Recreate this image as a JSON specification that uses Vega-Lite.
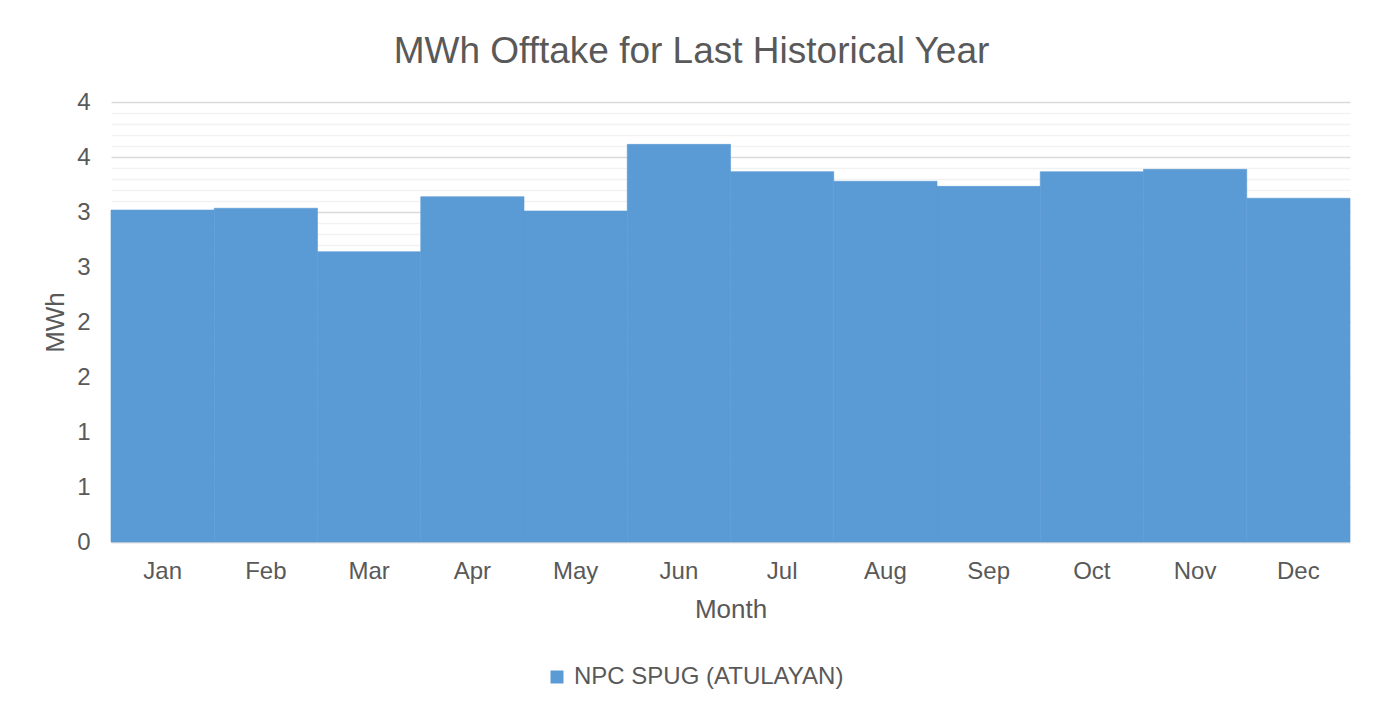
{
  "$schema": "https://vega.github.io/schema/vega-lite/v6.json",
  "width": 1239,
  "height": 440,
  "autosize": {"type": "none"},
  "padding": {"left": 111, "top": 102, "right": 34, "bottom": 169},
  "background": "#ffffff",
  "config": {"view": {"stroke": null}, "font": "Liberation Sans"},
  "title": {
    "text": "MWh Offtake for Last Historical Year",
    "font": "Liberation Sans",
    "fontSize": 37,
    "fontWeight": "normal",
    "color": "#595959",
    "anchor": "middle",
    "frame": "group",
    "baseline": "alphabetic",
    "offset": 40,
    "dx": -39,
    "dy": 50
  },
  "data": {
    "values": [
      {"month": "Jan", "mwh": 3.018, "series": "NPC SPUG (ATULAYAN)"},
      {"month": "Feb", "mwh": 3.034, "series": "NPC SPUG (ATULAYAN)"},
      {"month": "Mar", "mwh": 2.639, "series": "NPC SPUG (ATULAYAN)"},
      {"month": "Apr", "mwh": 3.139, "series": "NPC SPUG (ATULAYAN)"},
      {"month": "May", "mwh": 3.009, "series": "NPC SPUG (ATULAYAN)"},
      {"month": "Jun", "mwh": 3.615, "series": "NPC SPUG (ATULAYAN)"},
      {"month": "Jul", "mwh": 3.367, "series": "NPC SPUG (ATULAYAN)"},
      {"month": "Aug", "mwh": 3.279, "series": "NPC SPUG (ATULAYAN)"},
      {"month": "Sep", "mwh": 3.233, "series": "NPC SPUG (ATULAYAN)"},
      {"month": "Oct", "mwh": 3.366, "series": "NPC SPUG (ATULAYAN)"},
      {"month": "Nov", "mwh": 3.388, "series": "NPC SPUG (ATULAYAN)"},
      {"month": "Dec", "mwh": 3.125, "series": "NPC SPUG (ATULAYAN)"}
    ]
  },
  "mark": {"type": "bar", "stroke": "#5B9BD5", "strokeWidth": 0.6},
  "encoding": {
    "x": {
      "field": "month",
      "type": "nominal",
      "sort": null,
      "scale": {"paddingInner": 0, "paddingOuter": 0},
      "axis": {
        "title": "Month",
        "labelAngle": 0,
        "labelFont": "Liberation Sans",
        "labelFontSize": 24,
        "labelColor": "#595959",
        "labelPadding": 17,
        "ticks": false,
        "grid": false,
        "domain": true,
        "domainColor": "#D9D9D9",
        "domainWidth": 1.5,
        "titleFont": "Liberation Sans",
        "titleFontSize": 26,
        "titleFontWeight": "normal",
        "titleColor": "#595959",
        "titleBaseline": "alphabetic",
        "titleY": 75
      }
    },
    "y": {
      "field": "mwh",
      "type": "quantitative",
      "scale": {"domain": [0, 4], "nice": false},
      "axis": {
        "title": "MWh",
        "values": [0, 0.1, 0.2, 0.3, 0.4, 0.5, 0.6, 0.7, 0.8, 0.9, 1, 1.1, 1.2, 1.3, 1.4, 1.5, 1.6, 1.7, 1.8, 1.9, 2, 2.1, 2.2, 2.3, 2.4, 2.5, 2.6, 2.7, 2.8, 2.9, 3, 3.1, 3.2, 3.3, 3.4, 3.5, 3.6, 3.7, 3.8, 3.9, 4],
        "labelExpr": "abs(datum.value * 2 - round(datum.value * 2)) < 0.001 ? toString(round(datum.value)) : ''",
        "labelOverlap": false,
        "labelFont": "Liberation Sans",
        "labelFontSize": 24,
        "labelColor": "#595959",
        "labelPadding": 21,
        "ticks": false,
        "domain": false,
        "grid": true,
        "gridColor": {
          "condition": {"test": "abs(datum.value * 2 - round(datum.value * 2)) < 0.001", "value": "#D9D9D9"},
          "value": "#F2F2F2"
        },
        "gridWidth": 1.3,
        "titleFont": "Liberation Sans",
        "titleFontSize": 26,
        "titleFontWeight": "normal",
        "titleColor": "#595959",
        "titleBaseline": "alphabetic",
        "titleAngle": -90,
        "titleAlign": "center",
        "titleX": -48,
        "titleY": 220
      }
    },
    "color": {
      "field": "series",
      "type": "nominal",
      "scale": {"domain": ["NPC SPUG (ATULAYAN)"], "range": ["#5B9BD5"]},
      "legend": {
        "orient": "none",
        "legendX": 434,
        "legendY": 563,
        "title": null,
        "padding": 0,
        "symbolType": "square",
        "symbolSize": 169,
        "symbolStrokeWidth": 0,
        "symbolOpacity": 1,
        "labelFont": "Liberation Sans",
        "labelFontSize": 24,
        "labelColor": "#595959",
        "labelOffset": 5,
        "labelLimit": 0
      }
    }
  }
}
